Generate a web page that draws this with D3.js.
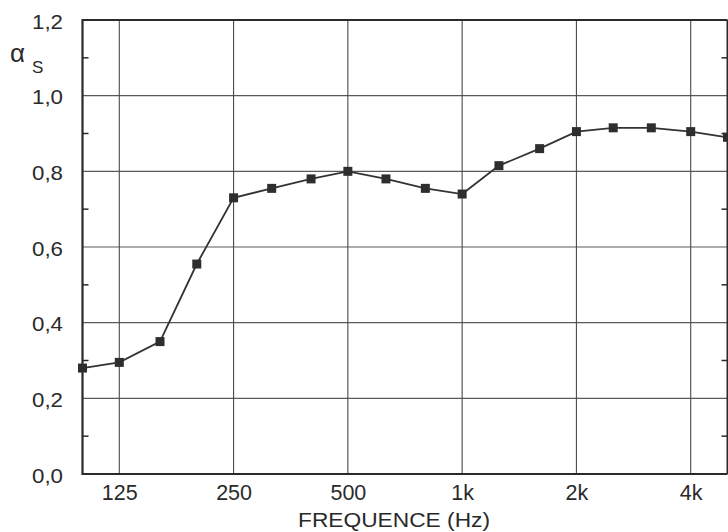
<!DOCTYPE html>
<html>
<head>
<meta charset="utf-8">
<script src="https://cdn.jsdelivr.net/npm/d3@7"></script>
<style>
  html, body { margin: 0; padding: 0; background: #fff; }
  svg { display: block; }
  text { font-family: "Liberation Sans", Arial, sans-serif; fill: #2a2a2a; }
</style>
</head>
<body>
<svg id="chart" width="728" height="532"></svg>
<script>
// Data (third-octave bands)
const frequencies = [100, 125, 160, 200, 250, 315, 400, 500, 630, 800, 1000, 1250, 1600, 2000, 2500, 3150, 4000, 5000];
const alphaS = [0.28, 0.295, 0.35, 0.555, 0.73, 0.755, 0.78, 0.80, 0.78, 0.755, 0.74, 0.815, 0.86, 0.905, 0.915, 0.915, 0.905, 0.89];
const xTickValues = [125, 250, 500, 1000, 2000, 4000];
const xTickLabels = ["125", "250", "500", "1k", "2k", "4k"];
const yTickValues = [0, 0.2, 0.4, 0.6, 0.8, 1.0, 1.2];
const yMinorTicks = [0.1, 0.3, 0.5, 0.7, 0.9, 1.1];

const svg = d3.select("#chart");
const mLeft = 82.5, mRight = 727.5, mTop = 20, mBottom = 474;
const ink = "#2a2a2a";

const x = d3.scaleLog().domain([100, 5000]).range([mLeft, mRight]);
const y = d3.scaleLinear().domain([0, 1.2]).range([mBottom, mTop]);

// gridlines
const grid = svg.append("g");
grid.selectAll("line.h").data(yTickValues.slice(1, -1)).join("line")
  .attr("x1", mLeft).attr("x2", mRight)
  .attr("y1", d => y(d)).attr("y2", d => y(d))
  .attr("stroke", "#5a5a5a").attr("stroke-width", 1.1);
grid.selectAll("line.v").data(xTickValues).join("line")
  .attr("x1", d => x(d)).attr("x2", d => x(d))
  .attr("y1", mTop).attr("y2", mBottom)
  .attr("stroke", "#4a4a4a").attr("stroke-width", 1.1);

// minor ticks (inside, both sides)
grid.selectAll("line.ml").data(yMinorTicks).join("line")
  .attr("x1", mLeft).attr("x2", mLeft + 6)
  .attr("y1", d => y(d)).attr("y2", d => y(d))
  .attr("stroke", ink).attr("stroke-width", 1.5);
grid.selectAll("line.mr").data(yMinorTicks).join("line")
  .attr("x1", mRight - 6).attr("x2", mRight)
  .attr("y1", d => y(d)).attr("y2", d => y(d))
  .attr("stroke", ink).attr("stroke-width", 1.5);

// frame
svg.append("path")
  .attr("d", `M${mRight},${mTop}H${mLeft}V${mBottom}H${mRight}`)
  .attr("fill", "none").attr("stroke", ink).attr("stroke-width", 2.2);
svg.append("line").attr("x1", mRight).attr("x2", mRight).attr("y1", mTop).attr("y2", mBottom)
  .attr("stroke", ink).attr("stroke-width", 2);

// axes (labels only)
const fmt = d => d.toFixed(1).replace(".", ",");
const yAxis = svg.append("g").attr("transform", `translate(${mLeft},0)`)
  .call(d3.axisLeft(y).tickValues(yTickValues).tickFormat(fmt).tickSize(0).tickPadding(19.5));
yAxis.select(".domain").remove();
yAxis.selectAll("text").attr("font-size", 20.5).attr("fill", ink).attr("dy", "0.4em")
  .attr("font-family", "Liberation Sans, Arial, sans-serif")
  .attr("textLength", 31).attr("lengthAdjust", "spacingAndGlyphs");

const xAxis = svg.append("g").attr("transform", `translate(0,${mBottom})`)
  .call(d3.axisBottom(x).tickValues(xTickValues).tickFormat((d, i) => xTickLabels[i]).tickSize(0).tickPadding(10.5));
xAxis.select(".domain").remove();
xAxis.selectAll("text").attr("font-size", 21.5).attr("fill", ink)
  .attr("font-family", "Liberation Sans, Arial, sans-serif");

// axis titles
svg.append("text").attr("x", 394).attr("y", 527).attr("text-anchor", "middle")
  .attr("font-size", 20.5).attr("textLength", 192).attr("lengthAdjust", "spacingAndGlyphs")
  .text("FREQUENCE (Hz)");
svg.append("text").attr("x", 10).attr("y", 62).attr("font-size", 26).text("α");
svg.append("text").attr("x", 32).attr("y", 73).attr("font-size", 17).text("S");

// series line
const line = d3.line().x((d, i) => x(frequencies[i])).y(d => y(d));
svg.append("path").datum(alphaS)
  .attr("d", line).attr("fill", "none").attr("stroke", "#333").attr("stroke-width", 1.8);

// markers
const ms = 9;
svg.append("g").selectAll("rect").data(alphaS).join("rect")
  .attr("x", (d, i) => x(frequencies[i]) - ms / 2)
  .attr("y", d => y(d) - ms / 2)
  .attr("width", ms).attr("height", ms)
  .attr("fill", "#2e2e2e");
</script>
</body>
</html>
